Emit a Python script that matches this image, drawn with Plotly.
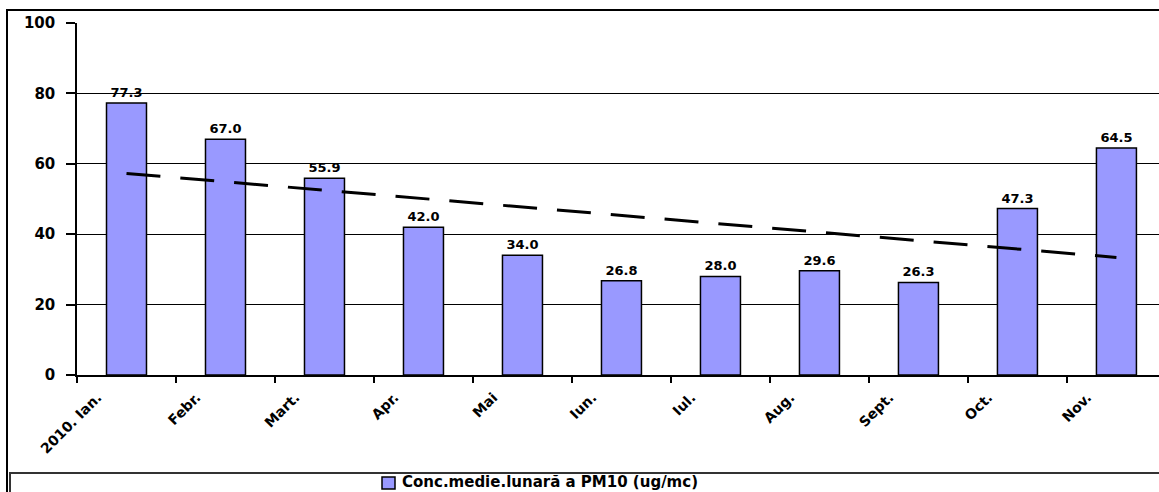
import numpy as np
import plotly.graph_objects as go

# Monthly mean PM10 concentration, 2010
months = ["2010. Ian.", "Febr.", "Mart.", "Apr.", "Mai", "Iun.", "Iul.",
          "Aug.", "Sept.", "Oct.", "Nov."]
pm10 = [77.3, 67.0, 55.9, 42.0, 34.0, 26.8, 28.0, 29.6, 26.3, 47.3, 64.5]
series_name = "Conc.medie.lunară a PM10 (ug/mc)"
y_ticks = [0, 20, 40, 60, 80, 100]

# Linear trend over the months
idx = np.arange(len(pm10))
slope, intercept = np.polyfit(idx, pm10, 1)
trend = slope * idx + intercept

W, H = 1159, 492
L, R, T, B = 77, 0, 23, 117
pw, ph = W - L - R, H - T - B


def px_x(p):
    return (p - L) / pw


def px_y(p):
    return (H - B - p) / ph


FONT = "DejaVu Sans, Arial, sans-serif"
BAR_COLOR = "#9999FF"

fig = go.Figure()
fig.add_trace(go.Bar(
    x=months, y=pm10, name=series_name, showlegend=False,
    width=0.404,
    marker=dict(color=BAR_COLOR, line=dict(color="black", width=1.5)),
    text=[f"{v:.1f}" for v in pm10], textposition="outside",
    textfont=dict(family=FONT, size=13, color="black", weight="bold"),
    constraintext="none", cliponaxis=False,
))
fig.add_trace(go.Scatter(
    x=months, y=trend, mode="lines", showlegend=False,
    line=dict(color="black", width=3, dash="34px,20px"),
    hoverinfo="skip",
))

shapes = [
    # chart frame
    dict(type="rect", xref="paper", yref="paper",
         x0=px_x(7), x1=px_x(1200), y0=px_y(520), y1=px_y(10),
         line=dict(color="black", width=2), fillcolor="rgba(0,0,0,0)", layer="below"),
    # legend box
    dict(type="rect", xref="paper", yref="paper",
         x0=px_x(10), x1=px_x(1200), y0=px_y(520), y1=px_y(473),
         line=dict(color="#333333", width=2), fillcolor="rgba(0,0,0,0)", layer="below"),
    # legend key
    dict(type="rect", xref="paper", yref="paper",
         x0=px_x(382), x1=px_x(395), y0=px_y(489), y1=px_y(477),
         line=dict(color="black", width=1.5), fillcolor=BAR_COLOR),
]

annotations = [
    dict(text=series_name, xref="paper", yref="paper",
         x=px_x(400), y=px_y(482), xanchor="left", yanchor="middle",
         showarrow=False,
         font=dict(family=FONT, size=15, color="black", weight="bold")),
]

fig.update_layout(
    width=W, height=H,
    margin=dict(l=L, r=R, t=T, b=B, pad=0),
    paper_bgcolor="white", plot_bgcolor="white",
    shapes=shapes, annotations=annotations,
    showlegend=False,
    xaxis=dict(
        type="category", range=[-0.5, 10.43], automargin=False,
        showline=True, linecolor="black", linewidth=1.5,
        ticks="outside", ticklen=6, tickcolor="black", tickwidth=1.5,
        tickson="boundaries", tickangle=-45, ticklabelshift=-29,
        ticklabelstandoff=7,
        tickfont=dict(family=FONT, size=14, color="black", weight="bold"),
        showgrid=False, zeroline=False,
    ),
    yaxis=dict(
        range=[0, 100], tickvals=y_ticks, automargin=False,
        showline=True, linecolor="black", linewidth=1.5,
        ticks="outside", ticklen=9, tickcolor="black", tickwidth=1.5,
        showgrid=True, gridcolor="black", gridwidth=1,
        zeroline=False,
        tickfont=dict(family=FONT, size=15, color="black", weight="bold"),
        ticklabelstandoff=8,
    ),
)

fig.write_html("out.html")
